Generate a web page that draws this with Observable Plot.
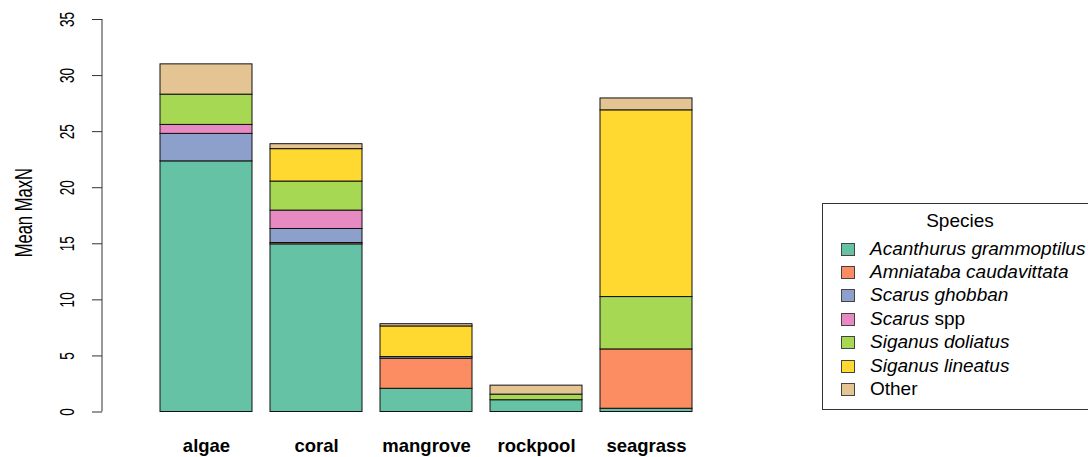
<!DOCTYPE html>
<html>
<head>
<meta charset="utf-8">
<script src="https://cdn.jsdelivr.net/npm/d3@7"></script>
<script src="https://cdn.jsdelivr.net/npm/@observablehq/plot@0.6"></script>
<style>
  html, body { margin: 0; padding: 0; background: #fff; overflow: hidden; }
  #wrap { position: relative; width: 1088px; height: 457px; overflow: hidden; font-family: "Liberation Sans", Arial, sans-serif; }
  #legend { position: absolute; left: 822px; top: 203px; width: 276px; height: 207px; border: 1px solid #333; box-sizing: border-box; background: #fff; }
  #legend .title { position: absolute; left: 0; width: 100%; top: 6px; text-align: center; font-size: 19px; }
  #legend .row { position: absolute; left: 0; height: 22px; line-height: 22px; font-size: 19px; white-space: nowrap; }
  #legend .sw { position: absolute; left: 18px; top: 5px; width: 12px; height: 11px; border: 1px solid #444; }
  #legend .lab { position: absolute; left: 47px; top: 0; }
</style>
</head>
<body>
<div id="wrap"><div id="legend"></div></div>
<script>
// Habitat sites along the x axis
const sites = ["algae", "coral", "mangrove", "rockpool", "seagrass"];

// Species stacked from bottom to top
const species = [
  "Acanthurus grammoptilus",
  "Amniataba caudavittata",
  "Scarus ghobban",
  "Scarus spp",
  "Siganus doliatus",
  "Siganus lineatus",
  "Other"
];

// Mean MaxN per site, one array per species (same order as sites)
const acanthurusGrammoptilus = [22.35, 14.95, 2.07, 1.05, 0.29];
const amniatabaCaudavittata  = [0.00, 0.12, 2.68, 0.00, 5.29];
const scarusGhobban          = [2.45, 1.25, 0.15, 0.00, 0.00];
const scarusSpp              = [0.80, 1.64, 0.00, 0.00, 0.00];
const siganusDoliatus        = [2.70, 2.59, 0.00, 0.50, 4.67];
const siganusLineatus        = [0.00, 2.89, 2.73, 0.00, 16.65];
const other                  = [2.70, 0.44, 0.20, 0.80, 1.06];

// Y axis ticks
const yTicks = [0, 5, 10, 15, 20, 25, 30, 35];

// Set2 palette
const palette = ["#66C2A5", "#FC8D62", "#8DA0CB", "#E78AC3", "#A6D854", "#FFD92F", "#E5C494"];

const seriesBySpecies = [
  acanthurusGrammoptilus, amniatabaCaudavittata, scarusGhobban,
  scarusSpp, siganusDoliatus, siganusLineatus, other
];

// Long table: for each site, species in stacking order
const rows = [];
sites.forEach((site, i) => {
  species.forEach((sp, j) => {
    rows.push({site, species: sp, value: seriesBySpecies[j][i]});
  });
});

const chart = Plot.plot({
  width: 1088,
  height: 457,
  marginTop: 19,
  marginBottom: 45.5,
  marginLeft: 102,
  marginRight: 0,
  x: {domain: sites, range: [159, 693], paddingInner: 0.1667, paddingOuter: 0, label: null},
  y: {domain: [0, 35], label: null},
  color: {domain: species, range: palette},
  style: {fontFamily: "'Liberation Sans', Arial, sans-serif", background: "transparent", color: "#000"},
  marks: [
    Plot.barY(rows, {x: "site", y: "value", fill: "species", stroke: "#111", strokeWidth: 1}),
    Plot.axisY({ticks: yTicks, tickSize: 10, tickFormat: () => "", stroke: "#333"}),
    Plot.text(yTicks, {
      y: d => d, text: d => String(d), frameAnchor: "left", dx: -35.3,
      rotate: -90, textAnchor: "middle", lineAnchor: "middle",
      fontSize: 20.5, fill: "#000"
    }),
    Plot.text(["Mean MaxN"], {
      frameAnchor: "left", dx: -78, dy: -3, rotate: -90,
      textAnchor: "middle", lineAnchor: "middle", fontSize: 23, fill: "#000"
    }),
    Plot.axisX({tickSize: 0, tickPadding: 27, fontSize: 18.5, fontWeight: "bold", label: null, fill: "#000"})
  ]
});

// Narrow the rotated y-axis text along its advance direction
const svg = d3.select(chart);
svg.selectAll("text").each(function () {
  const t = d3.select(this);
  const tr = t.attr("transform") || "";
  if (!tr.includes("rotate(")) return;
  const k = t.text() === "Mean MaxN" ? 0.72 : 0.66;
  t.attr("transform", tr + ` scale(${k},1)`);
});

// Axis line along the left edge of the frame
const y = chart.scale("y");
svg.append("line")
  .attr("x1", 102).attr("x2", 102)
  .attr("y1", y.apply(0)).attr("y2", y.apply(35))
  .attr("stroke", "#333").attr("stroke-width", 1);

document.getElementById("wrap").prepend(chart);
chart.style.position = "absolute";
chart.style.left = "0";
chart.style.top = "0";

// Legend
const legend = document.getElementById("legend");
const titleEl = document.createElement("div");
titleEl.className = "title";
titleEl.textContent = "Species";
legend.appendChild(titleEl);

species.forEach((sp, i) => {
  const row = document.createElement("div");
  row.className = "row";
  row.style.top = (33.5 + i * 23.4) + "px";
  const sw = document.createElement("div");
  sw.className = "sw";
  sw.style.background = palette[i];
  row.appendChild(sw);
  const lab = document.createElement("div");
  lab.className = "lab";
  if (sp === "Other") {
    lab.textContent = sp;
  } else if (sp === "Scarus spp") {
    lab.innerHTML = "<i>Scarus</i> spp";
  } else {
    lab.innerHTML = "<i>" + sp + "</i>";
  }
  row.appendChild(lab);
  legend.appendChild(row);
});
</script>
</body>
</html>
